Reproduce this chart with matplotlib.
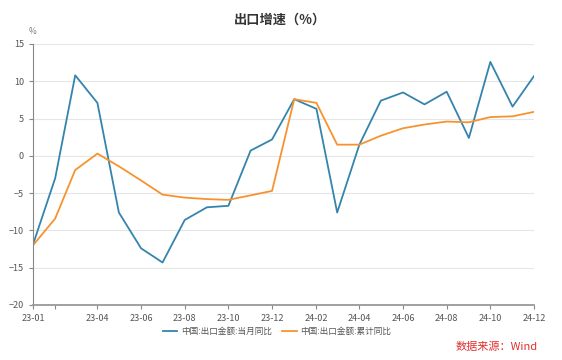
import matplotlib
matplotlib.use('Agg')
import matplotlib.pyplot as plt
import matplotlib.dates as mdates
import numpy as np
from datetime import datetime

plt.rcParams['font.family'] = ['Noto Sans CJK SC', 'DejaVu Sans']

months = ['23-01', '23-02', '23-03', '23-04', '23-05', '23-06', '23-07', '23-08',
          '23-09', '23-10', '23-11', '23-12', '24-01', '24-02', '24-03', '24-04',
          '24-05', '24-06', '24-07', '24-08', '24-09', '24-10', '24-11', '24-12']
monthly_yoy = [-11.9, -3.0, 10.8, 7.1, -7.6, -12.4, -14.3, -8.6, -6.9, -6.7, 0.7, 2.2,
               7.6, 6.3, -7.6, 1.5, 7.4, 8.5, 6.9, 8.6, 2.4, 12.6, 6.6, 10.7]
cum_yoy = [-12.0, -8.4, -1.9, 0.3, -1.4, -3.3, -5.2, -5.6, -5.8, -5.9, -5.3, -4.7,
           7.6, 7.1, 1.5, 1.5, 2.7, 3.7, 4.2, 4.6, 4.5, 5.2, 5.3, 5.9]
tick_months = ['23-01', '23-02', '23-04', '23-06', '23-08', '23-10', '23-12',
               '24-02', '24-04', '24-06', '24-08', '24-10', '24-12']

dates = [datetime.strptime(m, '%y-%m') for m in months]
tick_dates = [datetime.strptime(m, '%y-%m') for m in tick_months]
tick_labels = [m if m != '23-02' else '' for m in tick_months]

fig = plt.figure(figsize=(5.62, 3.6), dpi=100)
ax = fig.add_axes([0.0587, 0.1528, 0.8915, 0.725])

ax.plot(dates, monthly_yoy, color='#3584ad', lw=1.3, label='中国:出口金额:当月同比')
ax.plot(dates, cum_yoy, color='#f7932e', lw=1.3, label='中国:出口金额:累计同比')

ax.set_xlim(dates[0], dates[-1])
ax.set_ylim(-20, 15)
ax.set_yticks(np.arange(-20, 16, 5))
ax.set_xticks(tick_dates)
ax.set_xticklabels(tick_labels)
ax.grid(axis='y', color='#e6e6e6', lw=0.8)
ax.set_axisbelow(True)
for s in ['top', 'right']:
    ax.spines[s].set_visible(False)
ax.spines['left'].set_color('#888888')
ax.spines['bottom'].set_color('#999999')
ax.spines['bottom'].set_linewidth(1.3)
ax.tick_params(axis='both', colors='#888888', labelcolor='#555555', labelsize=6.5,
               length=3, width=0.8)

fig.text(0.057, 0.905, '%', fontsize=6, color='#777777', ha='center')
fig.text(0.498, 0.945, '出口增速（%）', fontsize=9.5, fontweight='bold', color='#333333',
         ha='center', va='center')
fig.legend(loc='center', bbox_to_anchor=(0.493, 0.08), ncol=2, frameon=False,
           fontsize=6.2, handlelength=1.7, handletextpad=0.4, columnspacing=1.2,
           labelcolor='#555555')
fig.text(0.956, 0.038, '数据来源：Wind', fontsize=8, color='#e03030', ha='right', va='center')

fig.savefig('out.png', dpi=100)
